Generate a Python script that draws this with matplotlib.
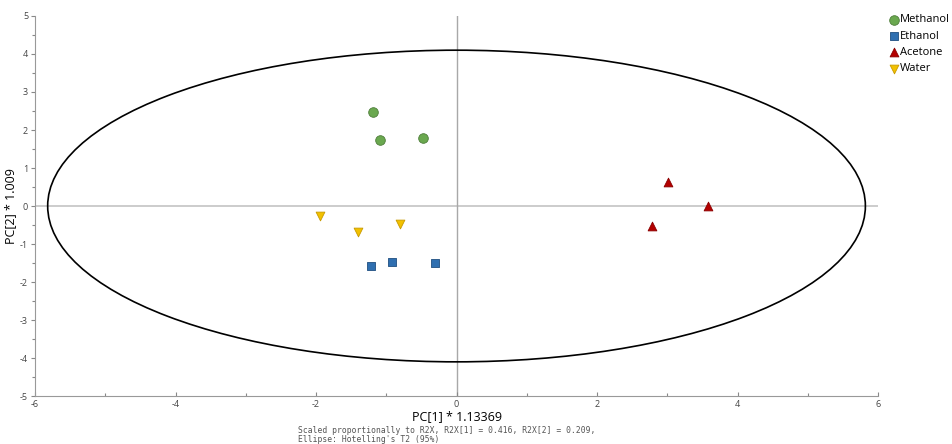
import numpy as np
import matplotlib.pyplot as plt
from matplotlib.patches import Ellipse
from matplotlib.ticker import MultipleLocator

plt.rcParams['font.family'] = ['Open Sans', 'DejaVu Sans']
plt.rcParams['axes.unicode_minus'] = False

# PCA scores (scaled)
methanol_x = [-1.19, -1.09, -0.48]
methanol_y = [2.47, 1.74, 1.79]
ethanol_x = [-1.22, -0.92, -0.31]
ethanol_y = [-1.58, -1.47, -1.50]
acetone_x = [3.01, 3.58, 2.78]
acetone_y = [0.63, 0.00, -0.52]
water_x = [-1.94, -1.40, -0.80]
water_y = [-0.27, -0.69, -0.48]

# Hotelling's T2 ellipse semi-axes
t2_a = 5.82
t2_b = 4.10

fig = plt.figure(figsize=(9.52, 4.44), dpi=100)
ax = fig.add_axes([0.0368, 0.108, 0.8855, 0.856])

ax.axhline(0, color='#c8c8c8', lw=1.3, zorder=1)
ax.axvline(0, color='#a8a8a8', lw=1.0, zorder=1)
ax.add_patch(Ellipse((0, 0), 2 * t2_a, 2 * t2_b, fill=False, ec='black', lw=1.2, zorder=2))

ax.scatter(methanol_x, methanol_y, marker='o', s=48, c='#6aa84f', edgecolors='#4e7d3a', lw=0.6, label='Methanol', zorder=3)
ax.scatter(ethanol_x, ethanol_y, marker='s', s=40, c='#2f6fb0', edgecolors='#1f4f80', lw=0.6, label='Ethanol', zorder=3)
ax.scatter(acetone_x, acetone_y, marker='^', s=40, c='#b40000', edgecolors='#8a0000', lw=0.6, label='Acetone', zorder=3)
ax.scatter(water_x, water_y, marker='v', s=40, c='#f2c100', edgecolors='#c89a00', lw=0.6, label='Water', zorder=3)

ax.set_xlim(-6, 6)
ax.set_ylim(-5, 5)
ax.xaxis.set_major_locator(MultipleLocator(2))
ax.xaxis.set_minor_locator(MultipleLocator(1))
ax.yaxis.set_major_locator(MultipleLocator(1))
ax.yaxis.set_minor_locator(MultipleLocator(0.5))
ax.tick_params(which='both', labelsize=6.5, labelcolor='#444444', color='#888888', width=0.8)
ax.tick_params(axis='x', which='both', direction='in', pad=3)
ax.tick_params(axis='y', which='both', direction='out', pad=2)
ax.tick_params(which='major', length=3)
ax.tick_params(which='minor', length=2)
for side in ['top', 'right']:
    ax.spines[side].set_visible(False)
for side in ['left', 'bottom']:
    ax.spines[side].set_color('#999999')

ax.set_xlabel('PC[1] * 1.13369', fontsize=9)
ax.set_ylabel('PC[2] * 1.009', fontsize=9)
ax.xaxis.set_label_coords(0.5, -0.038)
ax.yaxis.set_label_coords(-0.021, 0.5)

fig.text(0.313, 0.005,
         "Scaled proportionally to R2X, R2X[1] = 0.416, R2X[2] = 0.209,\nEllipse: Hotelling's T2 (95%)",
         family='DejaVu Sans Mono', fontsize=5.8, color='#555555', linespacing=0.95)

leg = fig.legend(loc='upper left', bbox_to_anchor=(0.925, 0.985), frameon=False,
                 fontsize=8, handletextpad=0.05, labelspacing=0.48, borderpad=0.2,
                 handlelength=1.0, markerscale=1.0)

fig.savefig('out.png', dpi=100)
